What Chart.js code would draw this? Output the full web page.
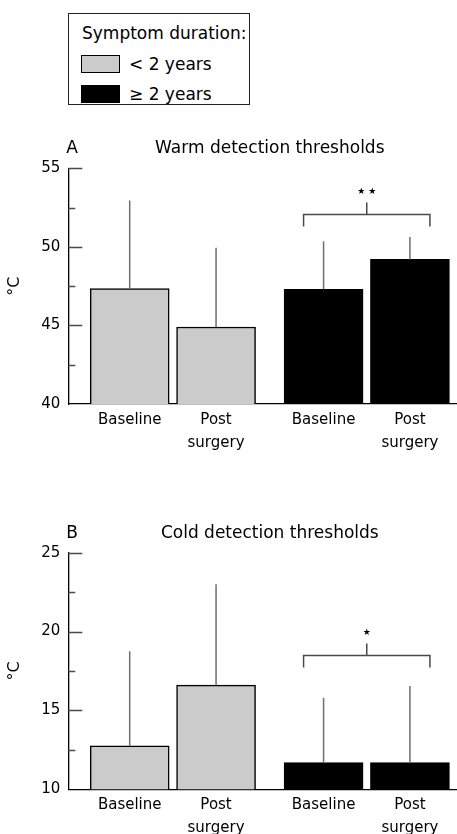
<!DOCTYPE html>
<html>
<head>
<meta charset="utf-8">
<script src="https://cdn.jsdelivr.net/npm/chart.js@4.4.1/dist/chart.umd.min.js"></script>
<style>
  html, body { margin: 0; padding: 0; background: #fff; width: 457px; height: 834px; overflow: hidden; }
  body { position: relative; font-family: "DejaVu Sans", sans-serif; color: #000; }
  #legend { position: absolute; left: 68px; top: 13px; width: 182px; height: 92px; border: 1px solid #222; box-sizing: border-box; }
  #legend .ttl { position: absolute; left: 13px; top: 9px; font-size: 17px; line-height: 20px; white-space: nowrap; }
  #legend .row { position: absolute; left: 12px; height: 18px; white-space: nowrap; }
  #legend .sw { position: absolute; left: 0; top: 0; width: 39px; height: 18px; box-sizing: border-box; border: 1px solid #000; }
  #legend .lbl { position: absolute; left: 48px; top: -1px; font-size: 17px; line-height: 20px; }
  .wrap { position: absolute; left: 0; width: 457px; }
  #w1 { top: 120px; height: 345px; }
  #w2 { top: 500px; height: 334px; }
</style>
</head>
<body>
<div id="legend">
  <div class="ttl">Symptom duration:</div>
  <div class="row" style="top:41px"><div class="sw" id="sw0"></div><div class="lbl" id="lb0"></div></div>
  <div class="row" style="top:71px"><div class="sw" id="sw1"></div><div class="lbl" id="lb1"></div></div>
</div>
<div class="wrap" id="w1"><canvas id="c1"></canvas></div>
<div class="wrap" id="w2"><canvas id="c2"></canvas></div>
<script>
// ---- data ----
const barLabels = ["Baseline", ["Post", "surgery"]];
const groupNames = ["< 2 years", "\u2265 2 years"];
const groupColors = ["#cbcbcb", "#000000"];

const warmTitle = "Warm detection thresholds";
const warmMeans = [47.35, 44.9, 47.3, 49.2];
const warmSD = [5.6, 5.05, 3.05, 1.42];
const warmTicks = [40, 45, 50, 55];
const warmBracket = 52.1;
const warmSig = "\u2605 \u2605";

const coldTitle = "Cold detection thresholds";
const coldMeans = [12.75, 16.6, 11.7, 11.7];
const coldSD = [6.0, 6.4, 4.1, 4.85];
const coldTicks = [10, 15, 20, 25];
const coldBracket = 18.5;
const coldSig = "\u2605";

// legend
groupNames.forEach((g, i) => {
  document.getElementById('lb' + i).textContent = g;
  document.getElementById('sw' + i).style.background = groupColors[i];
});

const FONT = '"DejaVu Sans", sans-serif';
const GROUP_SPACING = 2.245;
function barX(i) { return Math.floor(i / 2) * GROUP_SPACING + (i % 2); }

const decor = {
  id: 'decor',
  afterDatasetsDraw(chart, args, o) {
    const ctx = chart.ctx;
    const ys = chart.scales.y;
    const ca = chart.chartArea;
    const meta = chart.getDatasetMeta(0);
    ctx.save();
    // inward y ticks
    ctx.strokeStyle = '#4a4a4a';
    ctx.lineWidth = 1.5;
    ys.ticks.forEach(t => {
      const py = Math.round(ys.getPixelForValue(t.value)) + 0.5;
      const major = o.majors.includes(t.value);
      if (t.value === ys.min) return;
      ctx.beginPath();
      ctx.moveTo(ca.left, py);
      ctx.lineTo(ca.left + (major ? 14 : 7), py);
      ctx.stroke();
    });
    // error bars (upper only)
    ctx.strokeStyle = '#6f6f6f';
    ctx.lineWidth = 1.5;
    meta.data.forEach((el, i) => {
      const yTop = ys.getPixelForValue(o.means[i] + o.sd[i]);
      ctx.beginPath();
      ctx.moveTo(el.x, el.y);
      ctx.lineTo(el.x, yTop);
      ctx.stroke();
    });
    // bracket
    const xL = meta.data[2].x - 20, xR = meta.data[3].x + 20;
    const xc = (xL + xR) / 2;
    const yb = Math.round(ys.getPixelForValue(o.bracket)) + 0.5;
    ctx.strokeStyle = '#4a4a4a';
    ctx.beginPath();
    ctx.moveTo(xL, yb + 12); ctx.lineTo(xL, yb); ctx.lineTo(xR, yb); ctx.lineTo(xR, yb + 12);
    ctx.moveTo(xc, yb); ctx.lineTo(xc, yb - 12);
    ctx.stroke();
    ctx.fillStyle = '#000';
    ctx.font = '9px ' + FONT;
    ctx.textAlign = 'center';
    ctx.textBaseline = 'middle';
    ctx.fillText(o.sig, xc, yb - 23);
    // titles
    const first = meta.data[0], last = meta.data[3];
    const tx = ((first.x - first.width / 2) + (last.x + last.width / 2)) / 2;
    ctx.font = '17px ' + FONT;
    ctx.fillText(o.title, tx, ca.top - o.titleGap);
    ctx.textAlign = 'left';
    ctx.fillText(o.letter, ca.left - 2, ca.top - o.titleGap);
    ctx.restore();
  }
};

function makeChart(id, means, sd, ticks, bracket, sig, title, letter, padTop, xAxisH, titleGap) {
  const data = means.map((m, i) => ({ x: barX(i), y: m }));
  const colors = means.map((m, i) => groupColors[Math.floor(i / 2)]);
  const tickPositions = means.map((m, i) => barX(i));
  return new Chart(document.getElementById(id), {
    type: 'bar',
    data: {
      datasets: [{
        data: data,
        backgroundColor: colors,
        borderColor: '#000',
        borderWidth: 1.5,
        borderSkipped: false,
        barThickness: 79
      }]
    },
    options: {
      responsive: true,
      maintainAspectRatio: false,
      animation: false,
      events: [],
      layout: { padding: { top: padTop, left: 0, right: 0, bottom: 0 } },
      plugins: {
        legend: { display: false },
        tooltip: { enabled: false },
        title: { display: false },
        decor: { means, sd, bracket, sig, title, letter, majors: ticks, titleGap }
      },
      scales: {
        x: {
          type: 'linear',
          offset: false,
          min: -0.711,
          max: 3.79,
          grid: { display: false, drawTicks: false, offset: false },
          border: { display: true, color: '#000', width: 1.3 },
          afterBuildTicks: (s) => { s.ticks = tickPositions.map(v => ({ value: v })); },
          afterFit: (s) => { s.height = xAxisH; },
          ticks: {
            autoSkip: false,
            maxRotation: 0,
            padding: 5,
            color: '#000',
            font: { family: FONT, size: 15, lineHeight: 1.5 },
            callback: (v, i) => barLabels[i % 2]
          }
        },
        y: {
          min: ticks[0],
          max: ticks[ticks.length - 1],
          grid: { display: false, drawTicks: false },
          border: { display: true, color: '#000', width: 1.3 },
          afterFit: (s) => { s.width = 68.3; },
          ticks: {
            stepSize: 2.5,
            padding: 8,
            color: '#000',
            font: { family: FONT, size: 15 },
            callback: (v) => ticks.includes(v) ? String(v) : ''
          },
          title: {
            display: true,
            text: '\u00B0C',
            color: '#000',
            padding: { top: 5, bottom: 0 },
            font: { family: FONT, size: 16 }
          }
        }
      }
    },
    plugins: [decor]
  });
}

makeChart('c1', warmMeans, warmSD, warmTicks, warmBracket, warmSig, warmTitle, 'A', 48.3, 61, 20);
makeChart('c2', coldMeans, coldSD, coldTicks, coldBracket, coldSig, coldTitle, 'B', 52.7, 44.7, 19.5);
</script>
</body>
</html>
